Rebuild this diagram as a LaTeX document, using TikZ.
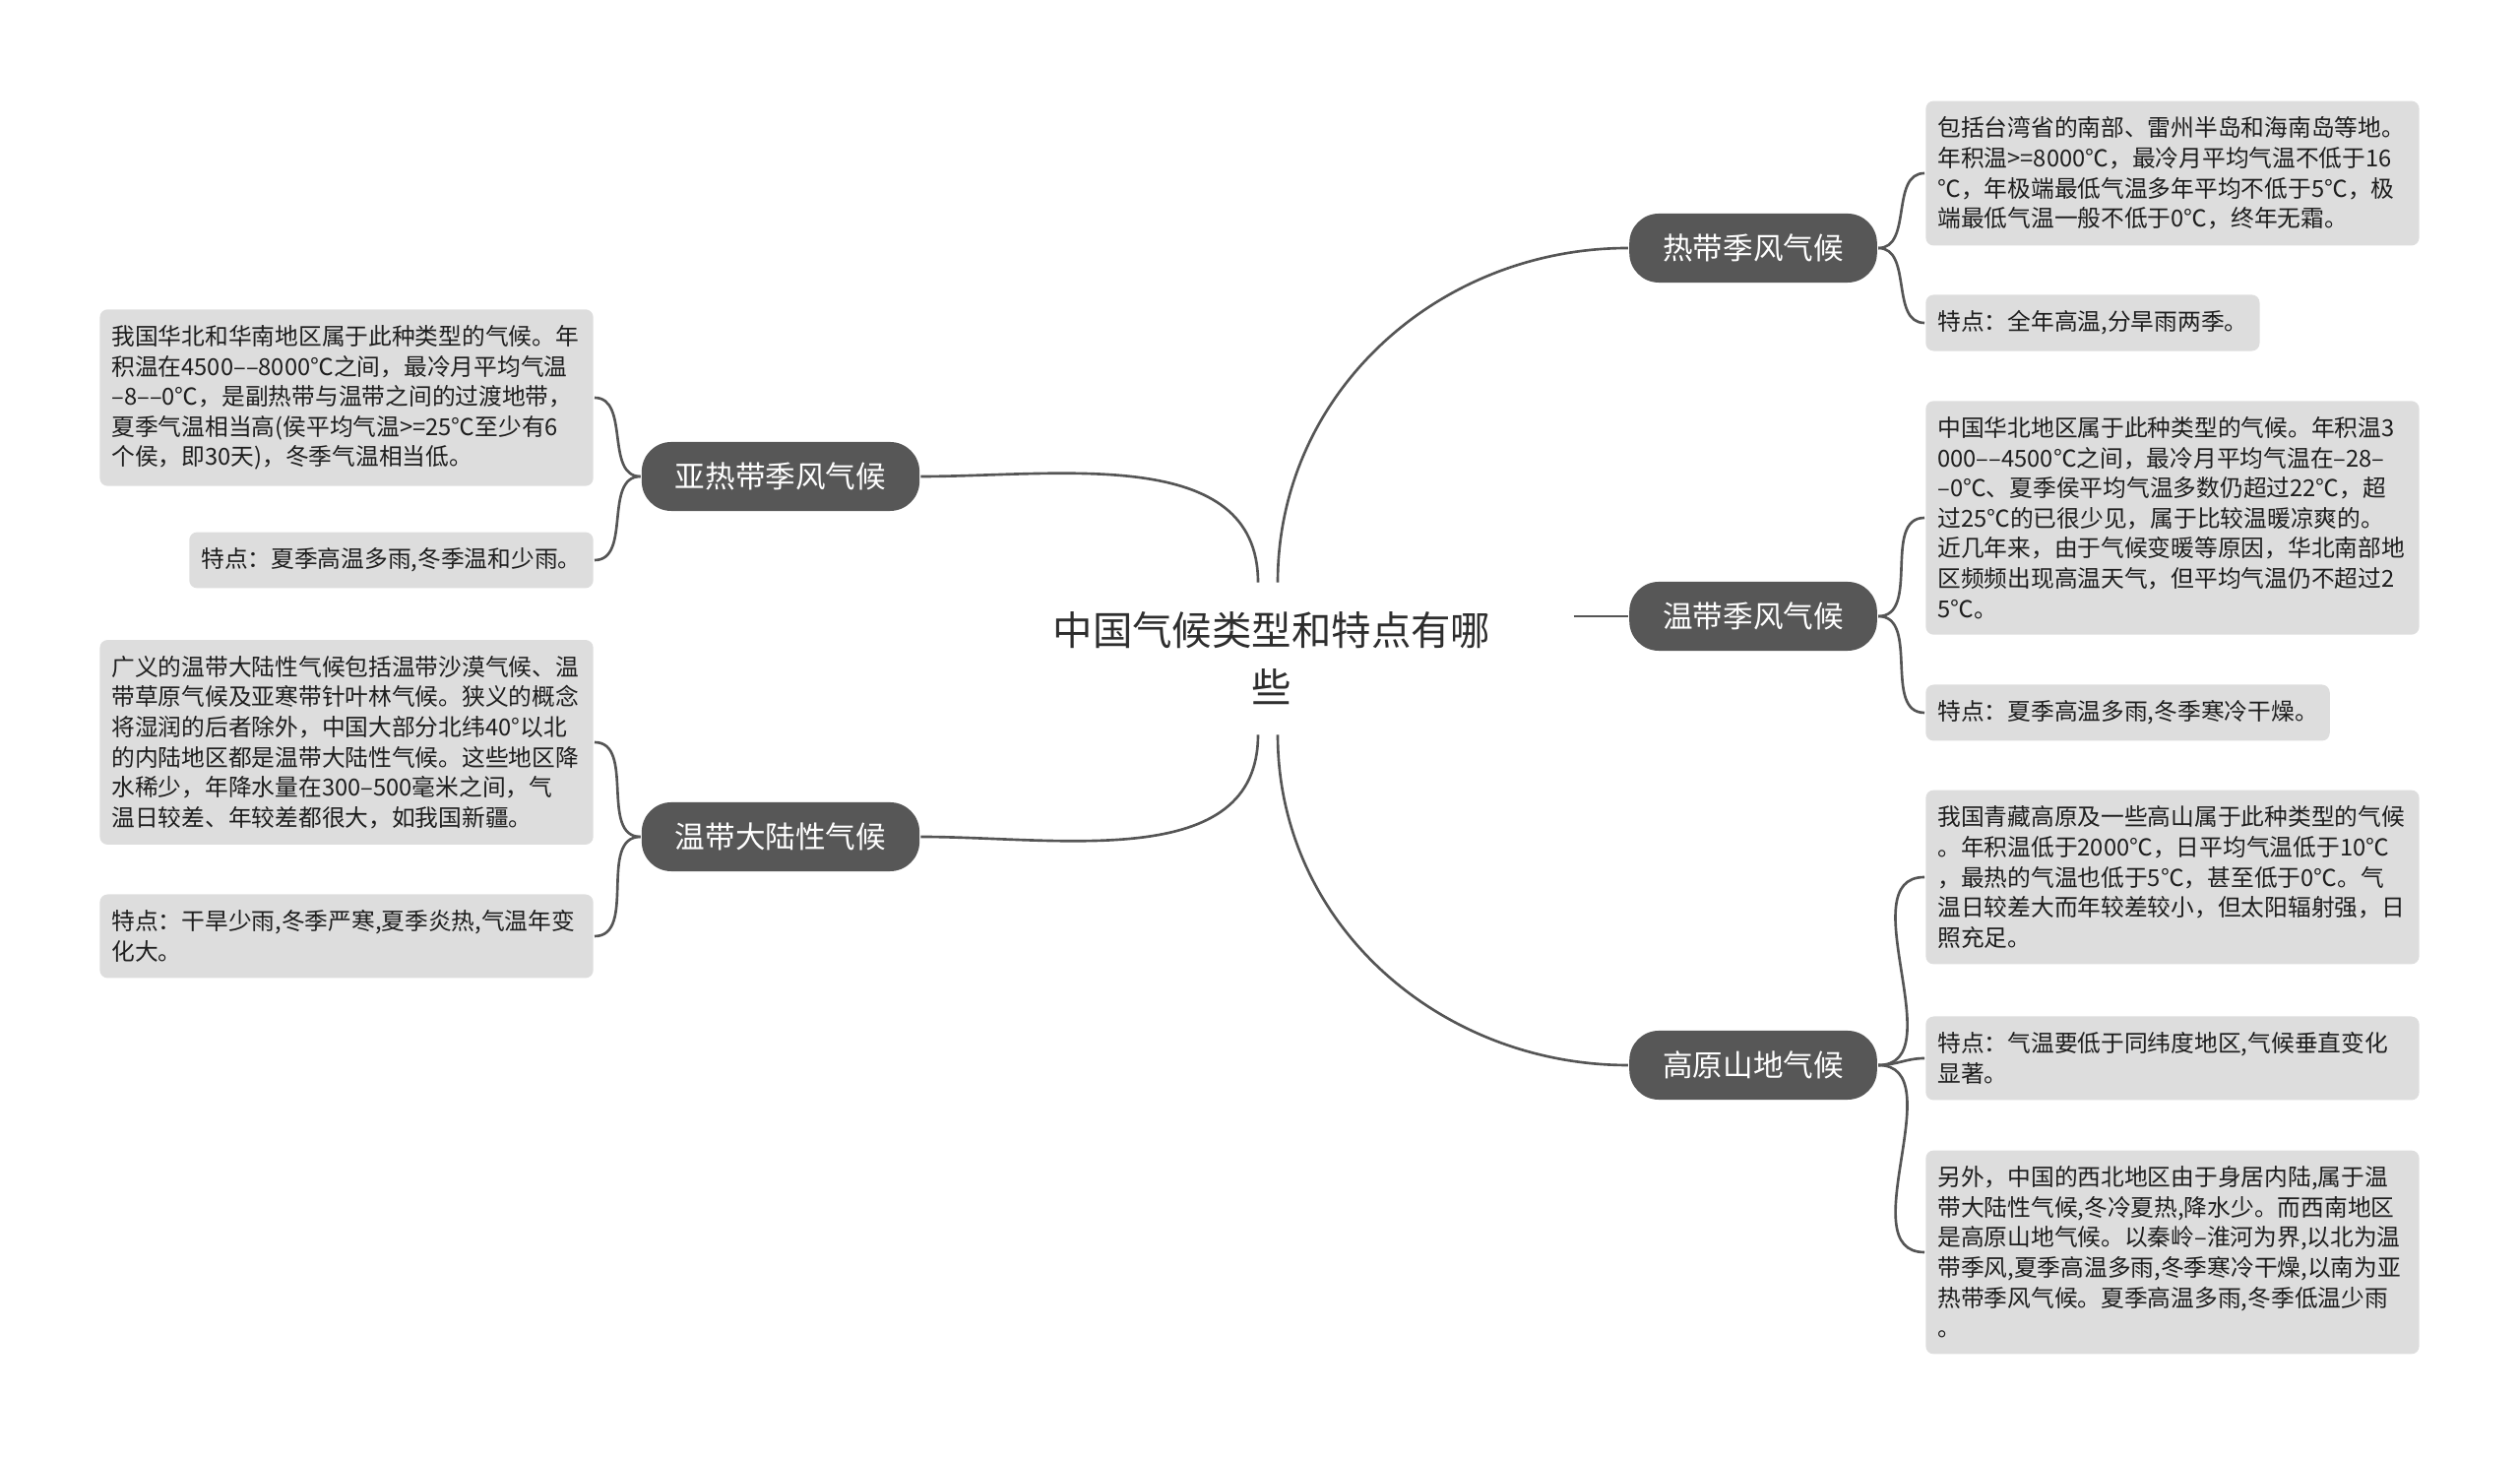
\documentclass[tikz,border=0pt]{standalone}
\usepackage{fontspec}
\setmainfont{Noto Sans CJK SC}
\definecolor{linegray}{HTML}{555555}
\definecolor{branchgray}{HTML}{575757}
\definecolor{leafgray}{HTML}{DDDDDD}
\definecolor{leaftext}{HTML}{1E1E1E}
\definecolor{topicgray}{HTML}{2E2E2E}
\begin{document}
\begin{tikzpicture}[
x=0.01cm, y=-0.01cm,
line width=0.75pt,
topic/.style={align=center, text=topicgray, font=\fontsize{11.5pt}{16.5pt}\selectfont, minimum width=6.1cm, minimum height=1.52cm},
branch/.style={fill=branchgray, text=white, rounded corners=0.3cm, minimum height=0.7cm, inner xsep=0.34cm, font=\fontsize{8.7pt}{10pt}\selectfont},
leaf/.style={fill=leafgray, text=leaftext, rounded corners=0.08cm, align=left, inner xsep=0.12cm, inner ysep=4.6pt, font=\fontsize{6.75pt}{8.7pt}\selectfont},
rightleaf/.style={leaf, anchor=west, text width=4.77cm},
leftleaf/.style={leaf, anchor=east, text width=4.77cm},
link/.style={draw=linegray}
]
\useasboundingbox (0,0) rectangle (2560,1480);

\node[topic] (topic) at (1292,669) {中国气候类型和特点有哪\\些};

\node[branch] (tropic) at (1781,252) {热带季风气候};
\node[branch] (temper) at (1781,626) {温带季风气候};
\node[branch] (plateau) at (1781,1082) {高原山地气候};
\node[branch] (subtrop) at (793,484) {亚热带季风气候};
\node[branch] (contin) at (793,850) {温带大陆性气候};

\node[rightleaf] (tropic1) at (1955,176) {包括台湾省的南部、雷州半岛和海南岛等地。\\年积温>=8000℃，最冷月平均气温不低于16\\℃，年极端最低气温多年平均不低于5℃，极\\端最低气温一般不低于0℃，终年无霜。};
\node[leaf, anchor=west] (tropic2) at (1955,328) {特点：全年高温,分旱雨两季。};

\node[rightleaf] (temper1) at (1955,526) {中国华北地区属于此种类型的气候。年积温3\\000––4500℃之间，最冷月平均气温在–28–\\–0℃、夏季侯平均气温多数仍超过22℃，超\\过25℃的已很少见，属于比较温暖凉爽的。\\近几年来，由于气候变暖等原因，华北南部地\\区频频出现高温天气，但平均气温仍不超过2\\5℃。};
\node[leaf, anchor=west] (temper2) at (1955,724) {特点：夏季高温多雨,冬季寒冷干燥。};

\node[rightleaf] (plateau1) at (1955,891) {我国青藏高原及一些高山属于此种类型的气候\\。年积温低于2000℃，日平均气温低于10℃\\，最热的气温也低于5℃，甚至低于0℃。气\\温日较差大而年较差较小，但太阳辐射强，日\\照充足。};
\node[rightleaf] (plateau2) at (1955,1075) {特点：气温要低于同纬度地区,气候垂直变化\\显著。};
\node[rightleaf] (plateau3) at (1955,1272) {另外，中国的西北地区由于身居内陆,属于温\\带大陆性气候,冬冷夏热,降水少。而西南地区\\是高原山地气候。以秦岭–淮河为界,以北为温\\带季风,夏季高温多雨,冬季寒冷干燥,以南为亚\\热带季风气候。夏季高温多雨,冬季低温少雨\\。};

\node[leftleaf] (subtrop1) at (604,404) {我国华北和华南地区属于此种类型的气候。年\\积温在4500––8000℃之间，最冷月平均气温\\–8––0℃，是副热带与温带之间的过渡地带，\\夏季气温相当高(侯平均气温>=25℃至少有6\\个侯，即30天)，冬季气温相当低。};
\node[leaf, anchor=east] (subtrop2) at (604,569) {特点：夏季高温多雨,冬季温和少雨。};

\node[leftleaf] (contin1) at (604,754) {广义的温带大陆性气候包括温带沙漠气候、温\\带草原气候及亚寒带针叶林气候。狭义的概念\\将湿润的后者除外，中国大部分北纬40°以北\\的内陆地区都是温带大陆性气候。这些地区降\\水稀少，年降水量在300–500毫米之间，气\\温日较差、年较差都很大，如我国新疆。};
\node[leftleaf] (contin2) at (604,951) {特点：干旱少雨,冬季严寒,夏季炎热,气温年变\\化大。};

\draw[link] ([xshift=0.6mm]topic.north) to[out=90,in=180] (tropic.west);
\draw[link] (temper.west -| topic.east) -- (temper.west);
\draw[link] ([xshift=0.6mm]topic.south) to[out=-90,in=180] (plateau.west);
\draw[link] ([xshift=-1.4mm]topic.north) to[out=90,in=0] (subtrop.east);
\draw[link] ([xshift=-1.4mm]topic.south) to[out=-90,in=0] (contin.east);

\foreach \n/\m in {tropic/tropic1, tropic/tropic2, temper/temper1, temper/temper2, plateau/plateau1, plateau/plateau2, plateau/plateau3}
	\draw[link] (\n.east) to[out=0,in=180] (\m.west);
\foreach \n/\m in {subtrop/subtrop1, subtrop/subtrop2, contin/contin1, contin/contin2}
	\draw[link] (\n.west) to[out=180,in=0] (\m.east);
\end{tikzpicture}
\end{document}
